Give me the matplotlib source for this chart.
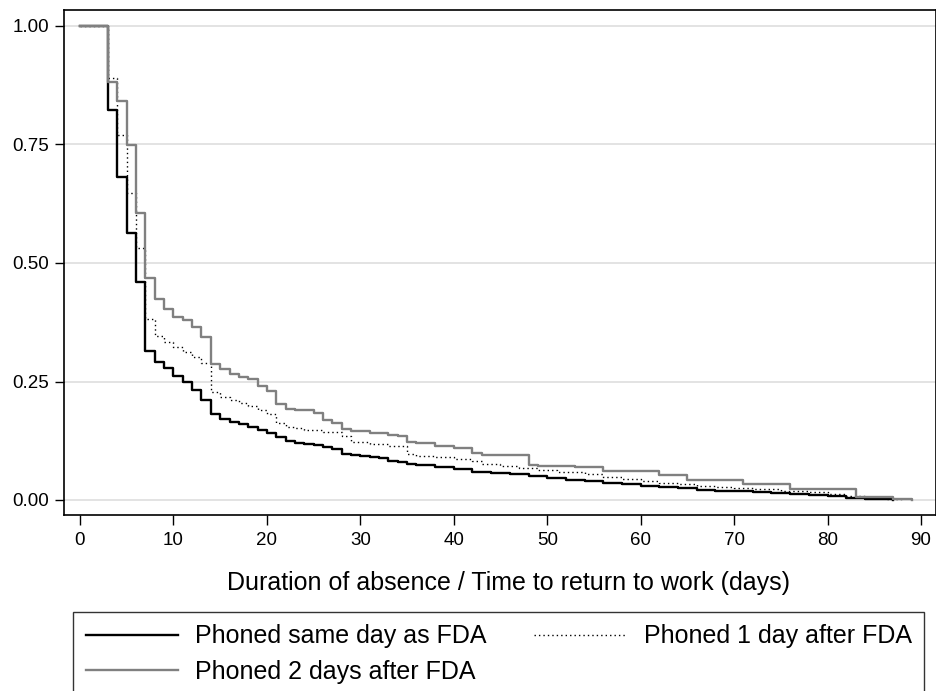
import matplotlib
matplotlib.use("Agg")
import matplotlib.pyplot as plt

plt.rcParams['font.family'] = ['Liberation Sans', 'DejaVu Sans']

# ---- data (Kaplan-Meier step curves, change points) ----
t_same = [0, 3, 4, 5, 6, 7, 8, 9, 10, 11, 12, 13, 14, 15, 16, 17, 18, 19, 20,
          21, 22, 23, 24, 25, 26, 27, 28, 29, 30, 31, 32, 33, 34, 35, 36, 38,
          40, 42, 44, 46, 48, 50, 52, 54, 56, 58, 60, 62, 64, 66, 68, 70, 72,
          74, 76, 78, 80, 82, 84, 86, 87]
s_same = [1.0, 0.823, 0.682, 0.563, 0.459, 0.315, 0.292, 0.279, 0.262, 0.248,
          0.232, 0.212, 0.181, 0.170, 0.165, 0.160, 0.155, 0.148, 0.141, 0.133,
          0.125, 0.121, 0.118, 0.115, 0.112, 0.107, 0.097, 0.095, 0.093, 0.090,
          0.088, 0.083, 0.080, 0.075, 0.073, 0.070, 0.066, 0.060, 0.057, 0.054,
          0.050, 0.046, 0.043, 0.040, 0.035, 0.033, 0.030, 0.028, 0.025, 0.022,
          0.020, 0.018, 0.016, 0.014, 0.012, 0.010, 0.008, 0.005, 0.003, 0.002,
          0.001]

t_1day = [0, 3, 4, 5, 6, 7, 8, 9, 10, 11, 12, 13, 14, 15, 16, 17, 18, 19, 20,
          21, 22, 23, 24, 26, 28, 29, 31, 33, 35, 36, 38, 40, 42, 43, 45, 47,
          49, 51, 54, 56, 58, 60, 62, 64, 66, 68, 70, 72, 75, 78, 80, 82, 84,
          86, 88]
s_1day = [1.0, 0.89, 0.77, 0.647, 0.531, 0.381, 0.346, 0.334, 0.323, 0.313,
          0.302, 0.290, 0.227, 0.218, 0.211, 0.204, 0.198, 0.190, 0.181, 0.162,
          0.155, 0.152, 0.148, 0.144, 0.134, 0.123, 0.118, 0.113, 0.098, 0.093,
          0.090, 0.087, 0.083, 0.075, 0.072, 0.068, 0.063, 0.060, 0.055, 0.049,
          0.045, 0.040, 0.036, 0.033, 0.030, 0.028, 0.026, 0.023, 0.020, 0.016,
          0.012, 0.008, 0.005, 0.003, 0.001]

t_2day = [0, 3, 4, 5, 6, 7, 8, 9, 10, 11, 12, 13, 14, 15, 16, 17, 18, 19, 20,
          21, 22, 23, 25, 26, 27, 28, 29, 31, 33, 34, 35, 36, 38, 40, 42, 43,
          48, 49, 53, 56, 62, 65, 71, 76, 83, 87, 89]
s_2day = [1.0, 0.882, 0.842, 0.749, 0.606, 0.469, 0.425, 0.402, 0.387, 0.380,
          0.366, 0.343, 0.287, 0.276, 0.266, 0.259, 0.255, 0.241, 0.229, 0.203,
          0.193, 0.190, 0.183, 0.169, 0.162, 0.150, 0.146, 0.141, 0.137, 0.134,
          0.123, 0.120, 0.114, 0.109, 0.100, 0.095, 0.074, 0.072, 0.069, 0.061,
          0.053, 0.042, 0.034, 0.023, 0.007, 0.002, 0.0]

labels = ["Phoned same day as FDA", "Phoned 1 day after FDA",
          "Phoned 2 days after FDA"]
x_ticks = [0, 10, 20, 30, 40, 50, 60, 70, 80, 90]
y_ticks = [0.0, 0.25, 0.5, 0.75, 1.0]
y_ticklabels = ["0.00", "0.25", "0.50", "0.75", "1.00"]
xlabel = "Duration of absence / Time to return to work (days)"

W, H = 937, 691
fig = plt.figure(figsize=(W / 100, H / 100), dpi=100)
ax = fig.add_axes([64 / W, 1 - 515 / H, (936 - 64) / W, (515 - 10) / H])

# x: 0 -> px 80, 90 -> px 921
ppd = (921 - 80) / 90.0
ax.set_xlim(-(80 - 64) / ppd, (936 - 80) / ppd)
ppu = 500 - 26
ax.set_ylim(-(515 - 500) / ppu, 1 + (26 - 10) / ppu)

for y in y_ticks:
    ax.axhline(y, color='#dedede', lw=1.2, zorder=0)

l1, = ax.step(t_same, s_same, where='post', color='black', lw=1.7, zorder=3)
l2, = ax.step(t_1day, s_1day, where='post', color='black', lw=1.0,
              linestyle=(0, (1, 2.2)), zorder=4)
l3, = ax.step(t_2day, s_2day, where='post', color='#808080', lw=1.7, zorder=5)

ax.set_xticks(x_ticks)
ax.set_xticklabels([str(v) for v in x_ticks])
ax.set_yticks(y_ticks)
ax.set_yticklabels(y_ticklabels)
ax.tick_params(axis='x', direction='out', length=7, width=1.0, pad=5,
               labelsize=13.5, colors='black')
ax.tick_params(axis='y', direction='out', length=6.5, width=1.0, pad=4,
               labelsize=13.5, colors='black')
for sp in ax.spines.values():
    sp.set_linewidth(1.2)
    sp.set_color('black')

fig.text(508.5 / W, 1 - 590 / H, xlabel, ha='center', va='baseline',
         fontsize=18)

# legend filled row by row: (same day, 1 day) / (2 days)
leg = fig.legend([l1, l3, l2], [labels[0], labels[2], labels[1]],
                 loc='upper left', bbox_to_anchor=(73 / W, 1 - 612 / H),
                 ncol=2, fontsize=18, frameon=True,
                 fancybox=False, handlelength=3.7, handletextpad=0.68,
                 columnspacing=1.9, labelspacing=0.44, borderpad=0.5,
                 borderaxespad=0.0)
leg.get_frame().set_edgecolor('black')
leg.get_frame().set_linewidth(1.0)

fig.savefig("out.png", dpi=100)
